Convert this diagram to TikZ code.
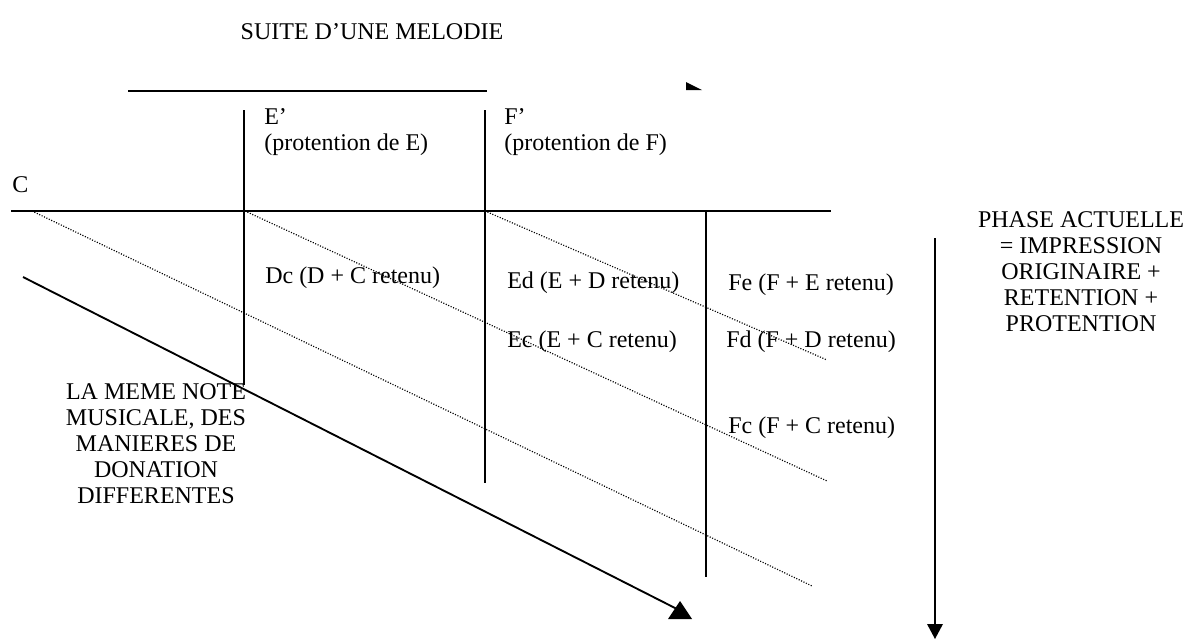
\documentclass[tikz,border=0pt]{standalone}
\usepackage{fontspec}
\setmainfont{Liberation Serif}
\usepackage{tikz}
\usetikzlibrary{positioning}

\begin{document}
\begin{tikzpicture}[x=0.75pt,y=-0.75pt,line cap=butt,
  axe/.style={line width=1.4pt},
  trace/.style={line width=0.9pt,dash pattern=on 0.8pt off 1.2pt},
  txt/.style={inner sep=0pt,font=\fontsize{18}{19.5}\selectfont},
  lbl/.style={txt,anchor=west},
  bloc/.style={txt,align=center,anchor=north},
  pointe/.style={fill=black,draw=none}]
\useasboundingbox (0,0) rectangle (1189,640);
\node[txt] (titre) at (372,32) {SUITE D’UNE MELODIE};
\coordinate (tl) at (128,91);
\coordinate (tr) at (487,91);
\coordinate (hl) at (11,211);
\coordinate (hr) at (831,211);
\coordinate (eTop) at (244,110);
\coordinate (eBot) at (244,385);
\coordinate (fTop) at (485,110);
\coordinate (fBot) at (485,483);
\coordinate (gTop) at (706,211);
\coordinate (gBot) at (706,577);
\coordinate (pTop) at (935,238);
\coordinate (pBot) at (935,626);
\coordinate (cJ) at (32,211);
\coordinate (eJ) at (245,211);
\coordinate (fJ) at (485,211);
\coordinate (cEnd) at (812,586);
\coordinate (eEnd) at (827,481);
\coordinate (fEnd) at (827,360);
\coordinate (mStart) at (23,277);
\coordinate (mEnd) at (677,609);
\draw[axe] (tl) -- (tr);
\fill[pointe] (686,82) -- (702,90) -- (686,90) -- cycle;
\draw[axe] (hl) -- (hr);
\draw[axe] (eTop) -- (eBot);
\draw[axe] (fTop) -- (fBot);
\draw[axe] (gTop) -- (gBot);
\draw[axe] (pTop) -- (pBot);
\fill[pointe] (927,624) -- (943,624) -- (935,639) -- cycle;
\draw[trace] (cJ) -- (cEnd);
\draw[trace] (eJ) -- (eEnd);
\draw[trace] (fJ) -- (fEnd);
\draw[axe] (mStart) -- (mEnd);
\fill[pointe] (680,601) -- (692,619) -- (668,619) -- cycle;
\node[txt,anchor=north west,align=left] (eProt) at (264,108) {E’\\(protention de E)};
\node[txt,anchor=north west,align=left] (fProt) at (504,108) {F’\\(protention de F)};
\node[lbl] (noteC) at (12,185) {C};
\node[lbl] (dc) at (265,278) {Dc (D + C retenu)};
\node[lbl] (ed) at (507,283) {Ed (E + D retenu)};
\node[lbl] (ec) at (507,342) {Ec (E + C retenu)};
\node[lbl] (fe) at (728,285) {Fe (F + E retenu)};
\node[lbl] (fd) at (726,342) {Fd (F + D retenu)};
\node[lbl] (fc) at (728,428) {Fc (F + C retenu)};
\node[bloc] (meme) at (156,383) {LA MEME NOTE\\MUSICALE, DES\\MANIERES DE\\DONATION\\DIFFERENTES};
\node[bloc] (phase) at (1081,211) {PHASE ACTUELLE\\= IMPRESSION\\ORIGINAIRE +\\RETENTION +\\PROTENTION};
\end{tikzpicture}
\end{document}
